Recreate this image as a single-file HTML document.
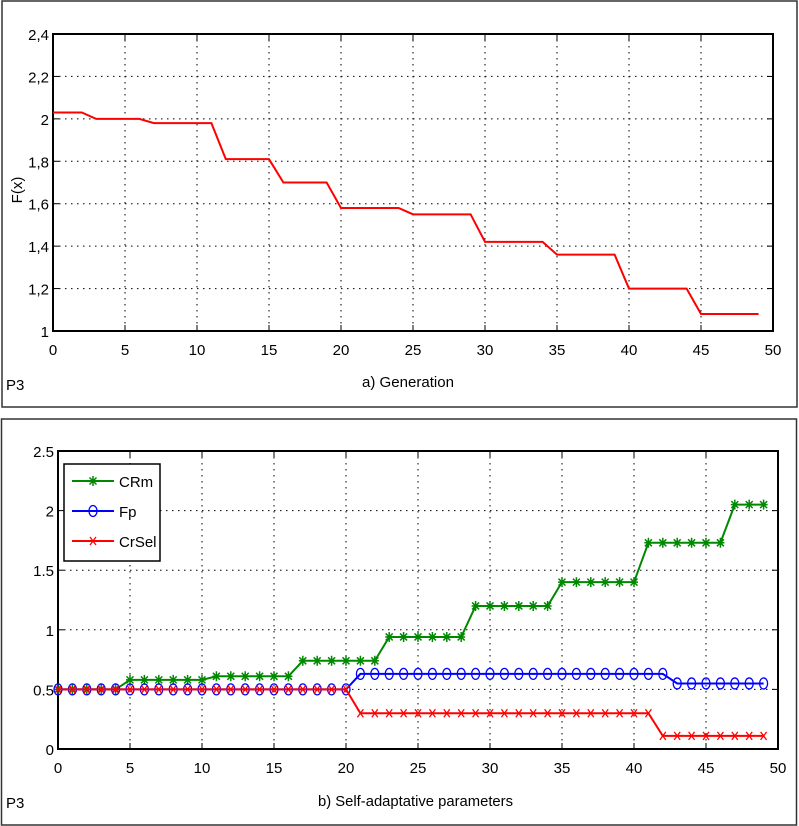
<!DOCTYPE html>
<html><head><meta charset="utf-8"><style>
body{margin:0;background:#fff;width:799px;height:826px;overflow:hidden}
svg{display:block;font-family:"Liberation Sans",sans-serif}
</style></head><body>
<svg id="s" width="799" height="826">
<rect x="2" y="1" width="795" height="406" fill="#fff" stroke="#333" stroke-width="1.5"/>
<rect x="1.5" y="419" width="795" height="406" fill="#fff" stroke="#333" stroke-width="1.5"/>
<g id="g1"></g>
<g id="g2"></g>
<text x="6" y="390" font-size="15" transform="scale(1,1)">P3</text>
<text x="6" y="808" font-size="15">P3</text>
<text x="362" y="387" font-size="15" textLength="92" lengthAdjust="spacingAndGlyphs">a) Generation</text>
<text x="318" y="806" font-size="15" textLength="195" lengthAdjust="spacingAndGlyphs">b) Self-adaptative parameters</text>
<text transform="translate(22,190) rotate(-90)" font-size="15" text-anchor="middle">F(x)</text>
</svg>
<script>
const fx = [2.03,2.03,2.03,2.0,2.0,2.0,2.0,1.98,1.98,1.98,1.98,1.98,1.81,1.81,1.81,1.81,1.70,1.70,1.70,1.70,1.58,1.58,1.58,1.58,1.58,1.55,1.55,1.55,1.55,1.55,1.42,1.42,1.42,1.42,1.42,1.36,1.36,1.36,1.36,1.36,1.20,1.20,1.20,1.20,1.20,1.08,1.08,1.08,1.08,1.08];
const crm = [0.5,0.5,0.5,0.5,0.5,0.58,0.58,0.58,0.58,0.58,0.58,0.61,0.61,0.61,0.61,0.61,0.61,0.74,0.74,0.74,0.74,0.74,0.74,0.94,0.94,0.94,0.94,0.94,0.94,1.2,1.2,1.2,1.2,1.2,1.2,1.4,1.4,1.4,1.4,1.4,1.4,1.73,1.73,1.73,1.73,1.73,1.73,2.05,2.05,2.05];
const fp = [0.5,0.5,0.5,0.5,0.5,0.5,0.5,0.5,0.5,0.5,0.5,0.5,0.5,0.5,0.5,0.5,0.5,0.5,0.5,0.5,0.5,0.63,0.63,0.63,0.63,0.63,0.63,0.63,0.63,0.63,0.63,0.63,0.63,0.63,0.63,0.63,0.63,0.63,0.63,0.63,0.63,0.63,0.63,0.55,0.55,0.55,0.55,0.55,0.55,0.55];
const crsel = [0.5,0.5,0.5,0.5,0.5,0.5,0.5,0.5,0.5,0.5,0.5,0.5,0.5,0.5,0.5,0.5,0.5,0.5,0.5,0.5,0.5,0.3,0.3,0.3,0.3,0.3,0.3,0.3,0.3,0.3,0.3,0.3,0.3,0.3,0.3,0.3,0.3,0.3,0.3,0.3,0.3,0.3,0.11,0.11,0.11,0.11,0.11,0.11,0.11,0.11];
const xTicks = [0,5,10,15,20,25,30,35,40,45,50];
const yTicks1 = [1,1.2,1.4,1.6,1.8,2,2.2,2.4];
const yTickLabels1 = ["1","1,2","1,4","1,6","1,8","2","2,2","2,4"];
const yTicks2 = [0,0.5,1,1.5,2,2.5];
const yTickLabels2 = ["0","0.5","1","1.5","2","2.5"];

const NS="http://www.w3.org/2000/svg";
function mk(p,t,a){const e=document.createElementNS(NS,t);for(const k in a)e.setAttribute(k,a[k]);p.appendChild(e);return e;}

function axes(g,L,R,T,B,x0,x1,y0,y1,yt,ytl){
  const X=v=>L+(v-x0)/(x1-x0)*(R-L), Y=v=>B-(v-y0)/(y1-y0)*(B-T);
  xTicks.forEach(v=>{
    if(v>x0&&v<x1){const l=mk(g,'line',{x1:X(v),x2:X(v),y1:T,y2:B,stroke:'#000','stroke-dasharray':'1.5,4.5'});
    
    }
    mk(g,'line',{x1:X(v),x2:X(v),y1:B,y2:B-6,stroke:'#000'});
    mk(g,'line',{x1:X(v),x2:X(v),y1:T,y2:T+6,stroke:'#000'});
    const t=mk(g,'text',{x:X(v),y:B+24,'font-size':15,'text-anchor':'middle'});t.textContent=v;
    
    
  });
  yt.forEach((v,i)=>{
    if(v>y0&&v<y1){const l=mk(g,'line',{x1:L,x2:R,y1:Y(v),y2:Y(v),stroke:'#000','stroke-dasharray':'1.5,4.5'});
    
    }
    mk(g,'line',{x1:L,x2:L+6,y1:Y(v),y2:Y(v),stroke:'#000'});
    mk(g,'line',{x1:R,x2:R-6,y1:Y(v),y2:Y(v),stroke:'#000'});
    const t=mk(g,'text',{x:L-4,y:Y(v)+6,'font-size':15,'text-anchor':'end'});t.textContent=ytl[i];
    
    
  });
  const r=mk(g,'rect',{x:L,y:T,width:R-L,height:B-T,fill:'none',stroke:'#000','stroke-width':2});
  
  
  return [X,Y];
}
function line(g,X,Y,arr,col,name){
  const p=mk(g,'polyline',{points:arr.map((v,i)=>X(i)+','+Y(v)).join(' '),fill:'none',stroke:col,'stroke-width':2});
  
  
}
function marker(g,x,y,type,col){
  if(type==='star'){
    mk(g,'path',{d:`M${x-4},${y}H${x+4}M${x},${y-5}V${y+5}M${x-3.5},${y-3.5}L${x+3.5},${y+3.5}M${x-3.5},${y+3.5}L${x+3.5},${y-3.5}`,stroke:col,'stroke-width':1.5});
  }else if(type==='o'){
    mk(g,'ellipse',{cx:x,cy:y,rx:4,ry:5.5,fill:'none',stroke:col,'stroke-width':1.3});
  }else{
    mk(g,'path',{d:`M${x-3},${y-4}L${x+3},${y+4}M${x-3},${y+4}L${x+3},${y-4}`,stroke:col,'stroke-width':1.3});
  }
}
const g1=document.getElementById('g1');
const [X1,Y1]=axes(g1,53,773,34,331,0,50,1,2.4,yTicks1,yTickLabels1);
line(g1,X1,Y1,fx,'#f00','fitness-line');
const g2=document.getElementById('g2');
const [X2,Y2]=axes(g2,58,778,451,749,0,50,0,2.5,yTicks2,yTickLabels2);
const series=[[crm,'#080','star','crm-line'],[fp,'#00f','o','fp-line'],[crsel,'#f00','x','crsel-line']];
series.forEach(s=>{
  line(g2,X2,Y2,s[0],s[1],s[3]);
  const mg=mk(g2,'g',{});
  
  
  s[0].forEach((v,i)=>marker(mg,X2(i),Y2(v),s[2],s[1]));
});
const lg=mk(g2,'g',{});


mk(lg,'rect',{x:64,y:464,width:96,height:97,fill:'#fff',stroke:'#000','stroke-width':1.5});
const names=['CRm','Fp','CrSel'];
series.forEach((s,i)=>{
  const y=481+i*30;
  const e=mk(lg,'g',{});
  
  
  mk(e,'line',{x1:72,x2:114,y1:y,y2:y,stroke:s[1],'stroke-width':2});
  marker(e,93,y,s[2],s[1]);
  const t=mk(e,'text',{x:119,y:y+6,'font-size':15});t.textContent=names[i];
});
</script>
</body></html>
